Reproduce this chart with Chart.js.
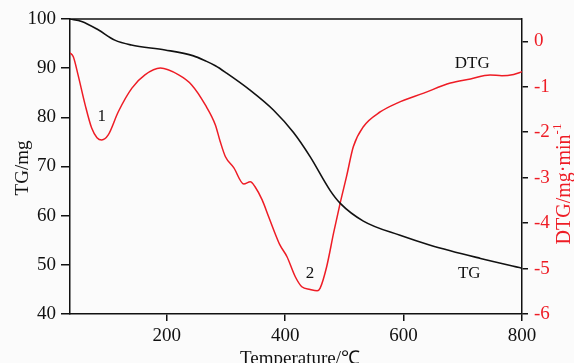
<!DOCTYPE html>
<html>
<head>
<meta charset="utf-8">
<script src="https://cdn.jsdelivr.net/npm/chart.js@4"></script>
<style>
  html, body { margin: 0; padding: 0; background: #fbfbfb; }
  #wrap { width: 574px; height: 363px; }
</style>
</head>
<body>
<div id="wrap"><canvas id="chart" width="574" height="363"></canvas></div>
<script>
/* TG / DTG curves */

const tgTemp = [36, 56, 84, 112, 140, 197, 245, 265, 282, 301, 340, 380, 414, 442, 476, 493, 532, 594, 645, 730, 800];
const tgMass = [100, 99.5, 97.8, 95.7, 94.7, 93.7, 92.5, 91.5, 90.5, 89.0, 85.6, 81.5, 76.9, 72.0, 65.1, 62.5, 58.9, 56.0, 54.0, 51.3, 49.3];

const dtgTemp = [36, 42, 50, 62, 73, 82, 90, 101, 118, 141, 163, 189, 220, 242, 265, 282, 290, 299, 313, 330, 341, 349, 361, 372, 382, 391, 403, 417, 428, 442, 454, 459, 470, 482, 493, 504, 515, 532, 561, 589, 634, 679, 713, 746, 766, 786, 800];
const dtgRate = [-0.25, -0.34, -0.74, -1.40, -1.91, -2.12, -2.17, -2.06, -1.55, -1.03, -0.74, -0.59, -0.74, -0.96, -1.40, -1.84, -2.2, -2.54, -2.78, -3.14, -3.09, -3.20, -3.49, -3.86, -4.2, -4.48, -4.74, -5.18, -5.40, -5.46, -5.49, -5.43, -4.96, -4.2, -3.55, -2.95, -2.32, -1.88, -1.55, -1.36, -1.14, -0.92, -0.83, -0.74, -0.76, -0.73, -0.67];

const xTicks = [200, 400, 600, 800];
const tgTicks = [40, 50, 60, 70, 80, 90, 100];
const dtgTicks = [-6, -5, -4, -3, -2, -1, 0];

const RED = '#ee1c25';
const FONT = "'Liberation Serif', 'Times New Roman', serif";

// text labels placed in data coordinates
const notes = [
  { text: '1',   x: 90,  y: -1.66, axis: 'y1' },
  { text: '2',   x: 442, y: -5.12, axis: 'y1' },
  { text: 'DTG', x: 716, y: -0.50, axis: 'y1' },
  { text: 'TG',  x: 711, y: 48.3,  axis: 'y' },
];

const toPoints = (xs, ys) => xs.map((x, i) => ({ x, y: ys[i] }));

const decorPlugin = {
  id: 'decor',
  afterDraw(chart) {
    const { ctx, chartArea: a, scales } = chart;
    ctx.save();
    // top frame line
    ctx.strokeStyle = '#111';
    ctx.lineWidth = 1.5;
    ctx.beginPath();
    ctx.moveTo(a.left, a.top);
    ctx.lineTo(a.right, a.top);
    ctx.stroke();

    // notes
    ctx.fillStyle = '#111';
    ctx.font = `17px ${FONT}`;
    ctx.textAlign = 'center';
    ctx.textBaseline = 'middle';
    notes.forEach(n => {
      ctx.fillText(n.text, scales.x.getPixelForValue(n.x), scales[n.axis].getPixelForValue(n.y));
    });

    // axis titles
    ctx.font = `19px ${FONT}`;
    ctx.fillStyle = '#111';
    ctx.textBaseline = 'alphabetic';
    ctx.fillText('Temperature/\u2103', 300, 364);

    ctx.save();
    ctx.translate(28, 168);
    ctx.rotate(-Math.PI / 2);
    ctx.fillText('TG/mg', 0, 0);
    ctx.restore();

    // right title with superscript
    ctx.save();
    ctx.translate(570, 184);
    ctx.rotate(-Math.PI / 2);
    ctx.fillStyle = RED;
    ctx.textAlign = 'left';
    ctx.font = `20px ${FONT}`;
    const main = 'DTG/mg\u00b7min';
    const w = ctx.measureText(main).width;
    ctx.font = `13px ${FONT}`;
    const sw = ctx.measureText('-1').width;
    const start = -(w + sw) / 2;
    ctx.font = `20px ${FONT}`;
    ctx.fillText(main, start, 0);
    ctx.font = `13px ${FONT}`;
    ctx.fillText('-1', start + w, -9);
    ctx.restore();

    ctx.restore();
  }
};

new Chart(document.getElementById('chart'), {
  type: 'line',
  data: {
    datasets: [
      {
        label: 'TG',
        data: toPoints(tgTemp, tgMass),
        yAxisID: 'y',
        borderColor: '#111',
        borderWidth: 1.6,
        pointRadius: 0,
        cubicInterpolationMode: 'monotone',
      },
      {
        label: 'DTG',
        data: toPoints(dtgTemp, dtgRate),
        yAxisID: 'y1',
        borderColor: RED,
        borderWidth: 1.5,
        pointRadius: 0,
        cubicInterpolationMode: 'monotone',
      },
    ],
  },
  options: {
    responsive: false,
    animation: false,
    layout: { padding: { top: 19, left: 0, right: 0, bottom: 0 } },
    plugins: {
      legend: { display: false },
      tooltip: { enabled: false },
    },
    scales: {
      x: {
        type: 'linear',
        min: 36.4,
        max: 800,
        afterBuildTicks: s => { s.ticks = xTicks.map(v => ({ value: v })); },
        afterFit: s => { s.height = 49; },
        grid: { drawOnChartArea: false, drawTicks: true, tickLength: 7, tickColor: '#111', lineWidth: 1.5 },
        border: { display: true, color: '#111', width: 1.5 },
        ticks: { color: '#111', font: { family: FONT, size: 19 }, padding: 4, maxRotation: 0 },
      },
      y: {
        position: 'left',
        min: 40,
        max: 100,
        afterBuildTicks: s => { s.ticks = tgTicks.map(v => ({ value: v })); },
        afterFit: s => { s.width = 70; },
        grid: { drawOnChartArea: false, drawTicks: true, tickLength: 9, tickColor: '#111', lineWidth: 1.5 },
        border: { display: true, color: '#111', width: 1.5 },
        ticks: { color: '#111', font: { family: FONT, size: 19 }, padding: 5 },
      },
      y1: {
        position: 'right',
        min: -6,
        max: 0.49,
        afterBuildTicks: s => { s.ticks = dtgTicks.map(v => ({ value: v })); },
        afterFit: s => { s.width = 52; },
        grid: { drawOnChartArea: false, drawTicks: true, tickLength: 6, tickColor: '#111', lineWidth: 1.5 },
        border: { display: true, color: '#111', width: 1.5 },
        ticks: { color: RED, font: { family: FONT, size: 19 }, padding: 6 },
      },
    },
  },
  plugins: [decorPlugin],
});
</script>
</body>
</html>
